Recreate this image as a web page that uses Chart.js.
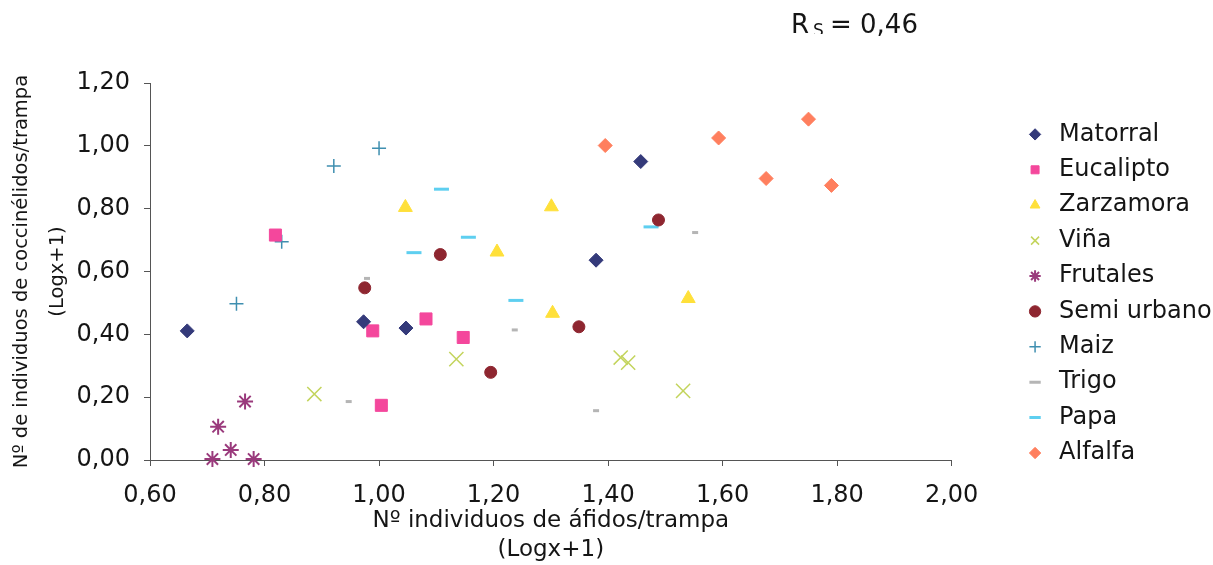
<!DOCTYPE html>
<html>
<head>
<meta charset="utf-8">
<script src="https://cdn.jsdelivr.net/npm/chart.js@4.4.1/dist/chart.umd.min.js"></script>
<style>
  html, body { margin: 0; padding: 0; background: #fff; }
  #wrap { width: 1213px; height: 565px; }
</style>
</head>
<body>
<div id="wrap"><canvas id="chart" width="1213" height="565"></canvas></div>
<script>
// series names, in legend order
const seriesNames = ['Matorral', 'Eucalipto', 'Zarzamora', 'Viña', 'Frutales',
  'Semi urbano', 'Maiz', 'Trigo', 'Papa', 'Alfalfa'];

// [áfidos, coccinélidos] pairs, both log(x+1)
const matorral   = [[0.665, 0.411], [0.973, 0.440], [1.047, 0.420], [1.379, 0.636], [1.457, 0.950]];
const eucalipto  = [[0.819, 0.716], [0.989, 0.411], [1.004, 0.174], [1.082, 0.449], [1.147, 0.390]];
const zarzamora  = [[1.046, 0.804], [1.301, 0.806], [1.206, 0.662], [1.303, 0.467], [1.540, 0.514]];
const vina       = [[0.887, 0.210], [1.135, 0.321], [1.422, 0.326], [1.435, 0.310], [1.531, 0.220]];
const frutales   = [[0.709, 0.003], [0.719, 0.106], [0.741, 0.032], [0.766, 0.186], [0.781, 0.003]];
const semiUrbano = [[0.975, 0.548], [1.107, 0.654], [1.195, 0.279], [1.349, 0.424], [1.488, 0.764]];
const maiz       = [[0.751, 0.497], [0.830, 0.695], [0.921, 0.936], [1.000, 0.992]];
const trigo      = [[0.979, 0.578], [0.947, 0.186], [1.237, 0.414], [1.379, 0.157], [1.552, 0.724]];
const papa       = [[1.061, 0.660], [1.109, 0.862], [1.156, 0.709], [1.239, 0.508], [1.475, 0.742]];
const alfalfa    = [[1.395, 1.001], [1.593, 1.025], [1.676, 0.896], [1.750, 1.085], [1.790, 0.874]];

const seriesData = [matorral, eucalipto, zarzamora, vina, frutales, semiUrbano, maiz, trigo, papa, alfalfa];

const rsText = '= 0,46';

// marker look per series
const colors  = ['#343a7a', '#f4479c', '#ffe03a', '#c3d45c', '#9a3a7c', '#8e2630', '#3f8fb0', '#b5b5b5', '#5ecff0', '#ff7f5e'];
const shapes  = ['rectRot', 'rect', 'triangle', 'crossRot', 'star', 'circle', 'cross', 'line', 'line', 'rectRot'];
const radii   = [7, 8.5, 8, 10, 8, 6, 7, 3, 7.5, 7];
const strokes = [1, 1, 1, 1.5, 2, 1, 1.5, 3, 3, 1];

const FONT = 'DejaVu Sans';
const INK = '#151515';
const fmt = v => Number(v).toFixed(2).replace('.', ',');

const datasets = seriesNames.map((name, i) => ({
  label: name,
  data: seriesData[i].map(p => ({ x: p[0], y: p[1] })),
  pointStyle: shapes[i],
  pointRadius: radii[i],
  pointHoverRadius: radii[i],
  backgroundColor: colors[i],
  borderColor: colors[i],
  borderWidth: strokes[i],
  clip: false
}));

const rsLabel = {
  id: 'rsLabel',
  afterDraw(chart) {
    const ctx = chart.ctx;
    ctx.save();
    ctx.fillStyle = INK;
    ctx.textBaseline = 'alphabetic';
    ctx.font = '26px "' + FONT + '"';
    ctx.fillText('R', 791, 33);
    ctx.fillText(rsText, 830, 33);
    ctx.beginPath();
    ctx.rect(0, 0, chart.width, 34);
    ctx.clip();
    ctx.font = '17px "' + FONT + '"';
    ctx.fillText('S', 813, 36);
    ctx.restore();
  }
};

new Chart(document.getElementById('chart'), {
  type: 'scatter',
  data: { datasets },
  plugins: [rsLabel],
  options: {
    responsive: false,
    animation: false,
    layout: { padding: { top: 83, right: -1, bottom: 0, left: 0 } },
    plugins: {
      tooltip: { enabled: false },
      legend: {
        position: 'right',
        align: 'start',
        title: { display: true, text: ' ', font: { size: 1, lineHeight: 1 }, padding: { top: 27, bottom: 0 } },
        labels: {
          usePointStyle: true,
          boxWidth: 24,
          boxHeight: 8,
          padding: 11.4,
          color: INK,
          font: { family: FONT, size: 24 }
        }
      }
    },
    scales: {
      x: {
        type: 'linear',
        min: 0.6,
        max: 2.0,
        afterFit(scale) { scale.height = 105; },
        ticks: { stepSize: 0.2, callback: fmt, color: INK, padding: 15, maxRotation: 0, autoSkip: false,
                 font: { family: FONT, size: 24 } },
        grid: { display: true, drawOnChartArea: false, drawTicks: true, tickLength: 6, color: '#555' },
        border: { display: true, color: '#555', width: 1 },
        title: {
          display: true,
          text: ['Nº individuos de áfidos/trampa', '(Logx+1)'],
          color: INK,
          font: { family: FONT, size: 23, lineHeight: '29px' },
          padding: { top: 0, bottom: 0 }
        }
      },
      y: {
        type: 'linear',
        min: 0,
        max: 1.2,
        afterFit(scale) { scale.width = 150; },
        ticks: { stepSize: 0.2, callback: fmt, color: INK, padding: 14, font: { family: FONT, size: 24 } },
        grid: { display: true, drawOnChartArea: false, drawTicks: true, tickLength: 6, color: '#555' },
        border: { display: true, color: '#555', width: 1 },
        title: {
          display: true,
          text: ['Nº de individuos de coccinélidos/trampa', '(Logx+1)'],
          color: INK,
          font: { family: FONT, size: 19.5, lineHeight: '36px' },
          padding: { top: 4, bottom: 0 }
        }
      },
      gap: {
        type: 'linear',
        position: 'right',
        display: true,
        grid: { display: false },
        ticks: { display: false },
        border: { display: false },
        afterFit(scale) { scale.width = 60; }
      }
    }
  }
});
</script>
</body>
</html>
